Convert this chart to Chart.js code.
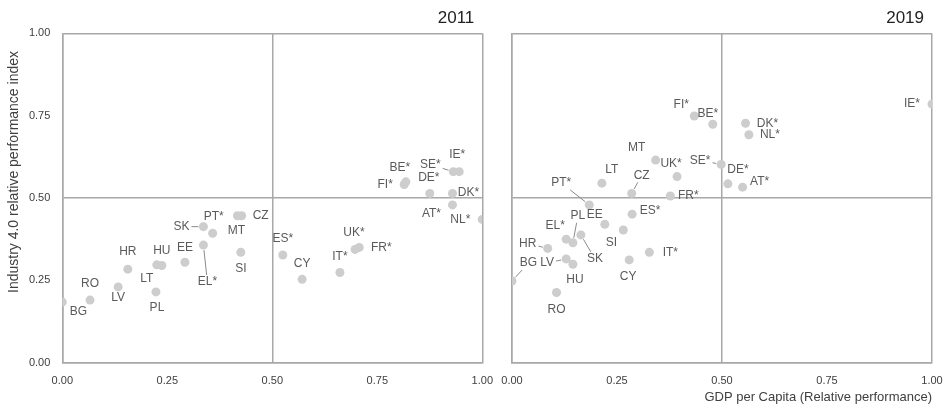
<!DOCTYPE html>
<html>
<head>
<meta charset="utf-8">
<script src="https://cdn.jsdelivr.net/npm/chart.js@4/dist/chart.umd.min.js"></script>
<style>
  html, body { margin: 0; padding: 0; background: #ffffff; }
  #wrap { position: relative; width: 944px; height: 410px; overflow: hidden; }
  .panel { position: absolute; top: 0; height: 410px; }
  #p2011 { left: 0; width: 496px; }
  #p2019 { left: 496px; width: 448px; }
  canvas { display: block; }
</style>
</head>
<body>
<div id="wrap">
  <div class="panel" id="p2011"><canvas id="c2011" width="496" height="410"></canvas></div>
  <div class="panel" id="p2019"><canvas id="c2019" width="448" height="410"></canvas></div>
</div>
<script>
// Member states, in one fixed order shared by both years
const countries = ['BG', 'RO', 'LV', 'HR', 'LT', 'HU', 'PL', 'EE', 'SK', 'EL*', 'PT*', 'MT', 'CZ', 'SI',
  'ES*', 'CY', 'IT*', 'UK*', 'FR*', 'FI*', 'BE*', 'DE*', 'SE*', 'IE*', 'DK*', 'AT*', 'NL*'];

// GDP per capita (relative performance), 2011
const gdp2011 = [0.000, 0.066, 0.133, 0.156, 0.225, 0.237, 0.223, 0.292, 0.336, 0.336, 0.358, 0.417, 0.427, 0.425,
  0.525, 0.571, 0.661, 0.697, 0.707, 0.814, 0.818, 0.875, 0.931, 0.945, 0.929, 0.929, 1.000];
// Industry 4.0 relative performance index, 2011
const index2011 = [0.184, 0.190, 0.230, 0.284, 0.297, 0.295, 0.215, 0.305, 0.413, 0.357, 0.393, 0.446, 0.446, 0.335,
  0.327, 0.253, 0.274, 0.344, 0.350, 0.541, 0.549, 0.514, 0.580, 0.580, 0.514, 0.479, 0.435];

// GDP per capita (relative performance), 2019
const gdp2019 = [0.000, 0.106, 0.129, 0.085, 0.214, 0.145, 0.145, 0.221, 0.164, 0.129, 0.184, 0.342, 0.285, 0.265,
  0.286, 0.279, 0.327, 0.393, 0.377, 0.434, 0.478, 0.514, 0.498, 1.000, 0.556, 0.549, 0.564];
// Industry 4.0 relative performance index, 2019
const index2019 = [0.248, 0.213, 0.315, 0.347, 0.545, 0.299, 0.364, 0.420, 0.388, 0.375, 0.479, 0.615, 0.514, 0.403,
  0.451, 0.312, 0.335, 0.565, 0.506, 0.749, 0.724, 0.543, 0.602, 0.785, 0.727, 0.533, 0.692];

const tickValues = [0, 0.25, 0.5, 0.75, 1];

const yTitle = 'Industry 4.0 relative performance index';
const xTitle = 'GDP per Capita (Relative performance)';

// Where each country tag sits relative to its dot: [dx, dy, leader line]
const tagPlacement2011 = {
  'BG': [16, 10], 'RO': [0, -16], 'LV': [0, 11], 'HR': [0, -17], 'LT': [-10, 14], 'HU': [0, -15],
  'PL': [1, 16], 'EE': [0, -15], 'SK': [-22, 0, true], 'EL*': [4, 37, true], 'PT*': [1, -17],
  'MT': [-1, 15], 'CZ': [19, 0], 'SI': [0, 16], 'ES*': [0, -16], 'CY': [0, -16], 'IT*': [0, -16],
  'UK*': [-1, -17], 'FR*': [22, 0], 'FI*': [-19, 0], 'BE*': [-6, -14], 'DE*': [-1, -16],
  'SE*': [-23, -7, true], 'IE*': [-2, -17], 'DK*': [16, -1], 'AT*': [-21, 9], 'NL*': [-22, 0]
};
const tagPlacement2019 = {
  'BG': [16.5, -18, true], 'RO': [0, 17], 'HR': [-20, -5, true], 'LV': [-19, 4, true], 'HU': [2, 15],
  'EL*': [-11, -13], 'PL': [5, -27, true], 'SK': [14, 24, true], 'PT*': [-28, -22, true], 'EE': [-10, -10],
  'SI': [-12, 13], 'ES*': [18, -3], 'CY': [-1, 17], 'IT*': [21, 0], 'LT': [10, -13], 'CZ': [10, -18, true],
  'MT': [-19, -12], 'UK*': [-6, -13], 'FR*': [18, 0], 'FI*': [-13, -11], 'BE*': [-5, -11],
  'SE*': [-21, -4, true], 'DE*': [10, -14], 'AT*': [17, -5], 'DK*': [22, 0], 'NL*': [21, 0], 'IE*': [-20, 0]
};

const FRAME = '#a8a8a8';
const DOT = '#cdcdcd';
const TAG_COLOR = '#5a5a5a';
const TICK_COLOR = '#404040';
const SANS = '"Liberation Sans", Arial, sans-serif';
const NARROW = '"Liberation Sans Narrow", "Liberation Sans", Arial, sans-serif';
const DOT_RADIUS = 4.5;

// Country tags (with optional leader lines) next to each dot
const countryTags = {
  id: 'countryTags',
  afterDatasetsDraw(chart, args, opts) {
    const ctx = chart.ctx;
    const meta = chart.getDatasetMeta(0);
    const names = chart.data.datasets[0].tags;
    ctx.save();
    ctx.font = '12px ' + SANS;
    ctx.fillStyle = TAG_COLOR;
    ctx.strokeStyle = '#8a8a8a';
    ctx.lineWidth = 1;
    ctx.textAlign = 'center';
    ctx.textBaseline = 'middle';
    meta.data.forEach((pt, i) => {
      const name = names[i];
      const place = opts.placement[name] || [0, -15];
      const lx = pt.x + place[0];
      const ly = pt.y + place[1];
      ctx.fillText(name, lx, ly);
      if (place[2]) {
        const w = ctx.measureText(name).width;
        const vx = pt.x - lx, vy = pt.y - ly;
        const len = Math.hypot(vx, vy);
        const hw = w / 2 + 2, hh = 7;
        const t = Math.min(vx !== 0 ? hw / Math.abs(vx) : Infinity, vy !== 0 ? hh / Math.abs(vy) : Infinity);
        const sx = lx + vx * t, sy = ly + vy * t;
        const ex = pt.x - vx / len * (DOT_RADIUS + 0.5), ey = pt.y - vy / len * (DOT_RADIUS + 0.5);
        ctx.beginPath();
        ctx.moveTo(sx, sy);
        ctx.lineTo(ex, ey);
        ctx.stroke();
      }
    });
    ctx.restore();
  }
};

// Year heading above the top-right corner of each panel, plus the vertical axis caption
const panelText = {
  id: 'panelText',
  afterDraw(chart, args, opts) {
    const ctx = chart.ctx;
    const area = chart.chartArea;
    ctx.save();
    ctx.fillStyle = '#222222';
    ctx.font = '17px ' + SANS;
    ctx.textAlign = 'right';
    ctx.textBaseline = 'middle';
    ctx.fillText(opts.year, area.right - 8, 18);
    if (opts.yCaption) {
      ctx.translate(14, 172);
      ctx.rotate(-Math.PI / 2);
      ctx.textAlign = 'center';
      ctx.fillStyle = '#404040';
      ctx.font = '14px ' + SANS;
      ctx.fillText(opts.yCaption, 0, 0);
    }
    ctx.restore();
  }
};

function frameColor(ctx) {
  const v = ctx.tick ? ctx.tick.value : null;
  return (v === 0 || v === 0.5 || v === 1) ? FRAME : 'rgba(0,0,0,0)';
}

function fixedTicks(axis) {
  axis.ticks = tickValues.map(v => ({ value: v }));
}

// Keep edge tick labels from pushing the plot area inwards
function noEdgePadding(axis) {
  axis.paddingLeft = 0;
  axis.paddingRight = 0;
  axis.paddingTop = 0;
  axis.paddingBottom = 0;
}

function makePanel(canvasId, year, gdp, idx, placement, isFirst) {
  const points = gdp.map((g, i) => ({ x: g, y: idx[i] }));
  const canvas = document.getElementById(canvasId);
  const plotLeft = isFirst ? 62.3 : 16;
  const plotRight = isFirst ? 482.3 : 436;
  return new Chart(canvas, {
    type: 'scatter',
    data: {
      datasets: [{
        data: points,
        tags: countries,
        backgroundColor: DOT,
        borderWidth: 0,
        pointRadius: DOT_RADIUS,
        pointHoverRadius: DOT_RADIUS
      }]
    },
    options: {
      responsive: false,
      animation: false,
      events: [],
      layout: { padding: { top: 33.3, right: canvas.width - plotRight, bottom: 0, left: 0 } },
      plugins: {
        legend: { display: false },
        tooltip: { enabled: false },
        countryTags: { placement: placement },
        panelText: { year: year, yCaption: isFirst ? yTitle : null }
      },
      scales: {
        x: {
          type: 'linear',
          min: 0,
          max: 1,
          afterBuildTicks: fixedTicks,
          afterFit: (axis) => { axis.height = 47.3; noEdgePadding(axis); },
          grid: { color: frameColor, lineWidth: 1.5, drawTicks: false },
          border: { display: true, color: FRAME, width: 1.5 },
          ticks: {
            padding: 12,
            autoSkip: false,
            maxRotation: 0,
            color: TICK_COLOR,
            font: { family: NARROW, size: 11 },
            callback: (v) => Number(v).toFixed(2)
          },
          title: {
            display: !isFirst,
            text: xTitle,
            align: 'end',
            color: '#404040',
            font: { family: SANS, size: 13 },
            padding: { top: 0, bottom: 5 }
          }
        },
        y: {
          type: 'linear',
          min: 0,
          max: 1,
          afterBuildTicks: fixedTicks,
          afterFit: (axis) => { axis.width = plotLeft; noEdgePadding(axis); },
          grid: { color: frameColor, lineWidth: 1.5, drawTicks: false },
          border: { display: true, color: FRAME, width: 1.5 },
          ticks: {
            display: isFirst,
            padding: 12,
            color: TICK_COLOR,
            font: { family: NARROW, size: 11 },
            callback: (v) => Number(v).toFixed(2)
          }
        }
      }
    },
    plugins: [countryTags, panelText]
  });
}

makePanel('c2011', '2011', gdp2011, index2011, tagPlacement2011, true);
makePanel('c2019', '2019', gdp2019, index2019, tagPlacement2019, false);
</script>
</body>
</html>
